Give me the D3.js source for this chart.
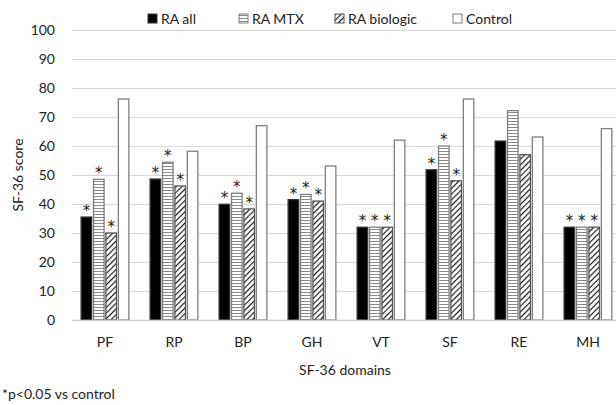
<!DOCTYPE html>
<html>
<head>
<meta charset="utf-8">
<script src="https://cdn.jsdelivr.net/npm/d3@7"></script>
<style>
  body { margin: 0; background: #fff; }
  text { font-family: Lato, "Open Sans", sans-serif; fill: #222; }
</style>
</head>
<body>
<div id="chart"></div>
<script>
var width = 616, height = 405;

// data
var domains = ["PF", "RP", "BP", "GH", "VT", "SF", "RE", "MH"];
var groups = ["RA all", "RA MTX", "RA biologic", "Control"];
var raAll      = [35.5, 48.6, 39.9, 41.5, 32, 51.8, 61.7, 32];
var raMtx      = [48.5, 54.4, 43.7, 43.3, 32, 60, 72.2, 32];
var raBiologic = [30, 46.2, 38.3, 41, 32, 48, 57, 32];
var control    = [76.2, 58.2, 67, 53.1, 62, 76.2, 63.1, 66];
// significance vs control (RA groups only)
var signif = [1, 1, 1, 1, 1, 1, 0, 1];
var yTicks = [0, 10, 20, 30, 40, 50, 60, 70, 80, 90, 100];

var series = [raAll, raMtx, raBiologic, control];
var rows = [];
domains.forEach(function(d, i) {
  groups.forEach(function(g, j) {
    rows.push({domain: d, group: g, value: series[j][i],
               star: j < 3 && signif[i] === 1});
  });
});

var svg = d3.select("#chart").append("svg")
            .attr("width", width)
            .attr("height", height);

// patterns
var defs = svg.append("defs");
var hp = defs.append("pattern")
             .attr("id", "hlines")
             .attr("patternUnits", "userSpaceOnUse")
             .attr("width", 6).attr("height", 3);
hp.append("rect").attr("width", 6).attr("height", 3).attr("fill", "#fff");
hp.append("line").attr("x1", 0).attr("x2", 6).attr("y1", 1.5).attr("y2", 1.5)
  .attr("stroke", "#8a8a8a").attr("stroke-width", 1);

var dp = defs.append("pattern")
             .attr("id", "diag")
             .attr("patternUnits", "userSpaceOnUse")
             .attr("width", 4).attr("height", 4)
             .attr("patternTransform", "rotate(45)");
dp.append("rect").attr("width", 4).attr("height", 4).attr("fill", "#fff");
dp.append("line").attr("x1", 0).attr("x2", 0).attr("y1", 0).attr("y2", 4)
  .attr("stroke", "#111").attr("stroke-width", 2.2);

var fills = {"RA all": "#000", "RA MTX": "url(#hlines)",
             "RA biologic": "url(#diag)", "Control": "#fff"};
var strokes = {"RA all": "#333", "RA MTX": "#7f7f7f",
               "RA biologic": "#555", "Control": "#7f7f7f"};

// scales
var yScale = d3.scaleLinear().domain([0, 100]).range([320, 30]);
var x0 = d3.scaleBand().domain(domains).range([70.5, 622.5]);
var x1 = d3.scaleBand().domain(groups)
           .range([x0.bandwidth() / 2 - 24.5, x0.bandwidth() / 2 + 24.5])
           .paddingInner(0.15).paddingOuter(0.05);

// gridlines
svg.append("g")
   .selectAll("line")
   .data(yTicks.slice(1))
   .enter().append("line")
   .attr("x1", 72).attr("x2", width)
   .attr("y1", function(d) { return Math.round(yScale(d)) + 0.5; })
   .attr("y2", function(d) { return Math.round(yScale(d)) + 0.5; })
   .attr("stroke", "#d9d9d9").attr("stroke-width", 1);

// y axis labels
var yaxis = d3.axisLeft(yScale).tickValues(yTicks).tickSize(0).tickPadding(0);
svg.append("g")
   .attr("transform", "translate(55,0)")
   .call(yaxis)
   .call(function(g) { g.select(".domain").remove(); })
   .selectAll("text")
   .style("font-family", "Lato, sans-serif")
   .style("font-size", "14px")
   .attr("fill", "#333");

// bars
var bars = svg.append("g").selectAll("rect")
              .data(rows).enter();

bars.append("rect")
    .attr("x", function(d) { return x0(d.domain) + x1(d.group); })
    .attr("y", function(d) { return yScale(d.value); })
    .attr("width", x1.bandwidth())
    .attr("height", function(d) { return yScale(0) - yScale(d.value); })
    .attr("fill", function(d) { return fills[d.group]; })
    .attr("stroke", function(d) { return strokes[d.group]; })
    .attr("stroke-width", 1.3);

// significance stars
svg.append("g").selectAll("text")
   .data(rows.filter(function(d) { return d.star; }))
   .enter().append("text")
   .attr("x", function(d) { return x0(d.domain) + x1(d.group) + x1.bandwidth() / 2; })
   .attr("y", function(d) { return yScale(d.value) - 1; })
   .attr("text-anchor", "middle")
   .style("font-family", "'DejaVu Sans', sans-serif")
   .style("font-size", "15px")
   .attr("fill", "#333")
   .text("*");

// x axis
var xaxis = d3.axisBottom(x0).tickSize(0).tickPadding(17);
var xg = svg.append("g")
            .attr("transform", "translate(0," + yScale(0) + ")")
            .call(xaxis);
xg.select(".domain").remove();
xg.selectAll("text")
  .style("font-family", "Lato, sans-serif")
  .style("font-size", "14px")
  .attr("fill", "#333");
svg.append("line")
   .attr("x1", 72).attr("x2", width)
   .attr("y1", yScale(0) + 0.5).attr("y2", yScale(0) + 0.5)
   .attr("stroke", "#d0d0d0").attr("stroke-width", 1.5);

// axis titles
svg.append("text")
   .attr("text-anchor", "middle")
   .attr("transform", "translate(" + 23 + "," + 175 + ") rotate(-90)")
   .style("font-size", "14px")
   .text("SF-36 score");

svg.append("text")
   .attr("text-anchor", "middle")
   .attr("x", 345).attr("y", 375)
   .style("font-size", "14px")
   .text("SF-36 domains");

svg.append("text")
   .attr("x", 2).attr("y", 399)
   .style("font-size", "14px")
   .text("*p<0.05 vs control");

// legend
var legendX = [148, 239, 335, 453];
var legend = svg.append("g").selectAll("g")
                .data(groups).enter().append("g")
                .attr("transform", function(d, i) {
                  return "translate(" + legendX[i] + ",14)";
                });
legend.append("rect")
      .attr("width", 9).attr("height", 9)
      .attr("fill", function(d) { return fills[d]; })
      .attr("stroke", function(d) { return strokes[d]; })
      .attr("stroke-width", 1);
legend.append("text")
      .attr("x", 13).attr("y", 9.5)
      .style("font-size", "14px")
      .text(function(d) { return d; });
</script>
</body>
</html>
